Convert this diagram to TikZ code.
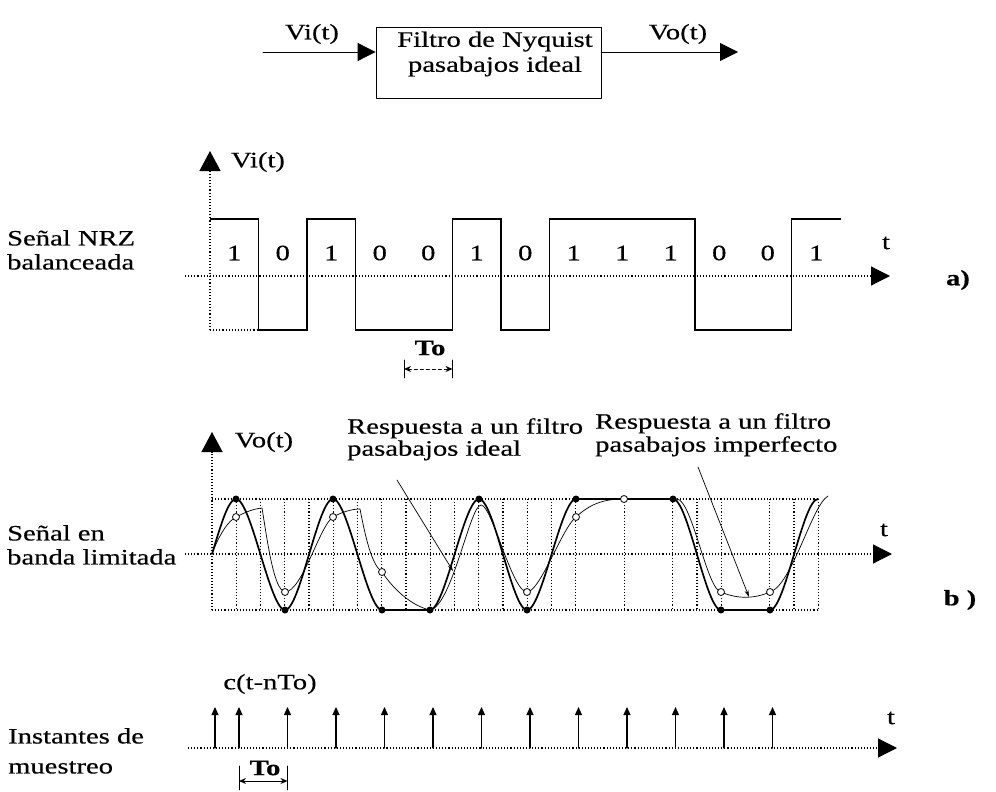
\documentclass[tikz,border=0pt]{standalone}
\usepackage{fontspec}
\setmainfont[FakeStretch=1.3, FakeBold=0.4]{Liberation Serif}
\usetikzlibrary{arrows.meta,calc}

\begin{document}
\begin{tikzpicture}[x=1pt, y=-1pt, line cap=round, line join=round,
  font=\fontsize{22}{24}\selectfont,
  dotline/.style={line width=1.2pt, line cap=butt, dash pattern=on 1.1pt off 2pt},
  taxis/.style={dotline, -{Triangle[length=19pt,width=19pt]}},
  yaxis/.style={dotline, -{Triangle[length=20pt,width=21pt]}},
  nrz/.style={line width=1.8pt, line join=miter, line cap=butt},
  ideal/.style={line width=1.7pt},
  imperf/.style={line width=0.7pt},
  leader/.style={line width=0.7pt, -{Stealth[length=7pt,width=4pt]}},
  impulse/.style={line width=1.2pt, -{Triangle[length=8pt,width=7pt]}},
  tospan/.style={line width=0.9pt, {Stealth[length=7pt,width=6pt]}-{Stealth[length=7pt,width=6pt]}},
  lbl/.style={align=left, inner sep=0pt, anchor=north west},
  boldlbl/.style={font=\fontsize{22}{24}\selectfont\bfseries}]
  \useasboundingbox (0,0) rectangle (996,792);

  % block diagram
  \node[draw, line width=0.8pt, minimum width=225pt, minimum height=71pt, inner sep=0pt] (filtro) at (488.5,62.5) {};
  \node[align=center, font=\fontsize{22}{25}\selectfont] (filtrotxt) at (495,54) {Filtro de Nyquist\\pasabajos ideal};
  \coordinate (vin) at (263,52);
  \coordinate (vout) at (738,52);
  \draw[line width=0.8pt, -{Triangle[length=18pt,width=18pt]}] (vin) -- (vin -| filtro.west);
  \draw[line width=0.8pt, -{Triangle[length=18pt,width=18pt]}] (filtro.east |- vout) -- (vout);
  \node (vilbl) at (312,34) {Vi(t)};
  \node (volbl) at (678,34) {Vo(t)};

  % a) NRZ signal
  \node[lbl] (nrzlbl) at (7,230) {Señal NRZ\\balanceada};
  \coordinate (ya0) at (210,330);
  \coordinate (ya1) at (210,151);
  \draw[yaxis] (ya0) -- (ya1);
  \draw[dotline] (ya0) -- (258.5,330);
  \node (vi) at (258,162) {Vi(t)};
  \coordinate (ta0) at (185,276);
  \coordinate (ta1) at (890,276);
  \draw[taxis] (ta0) -- (ta1);
  \node (tta) at (886,243) {t};
  \node[boldlbl] (alabel) at (958,280) {a)};
  \draw[nrz] (210,219) -- (258.5,219) -- (258.5,330) -- (307,330) -- (307,219) -- (355.5,219)
    -- (355.5,330) -- (452.5,330) -- (452.5,219) -- (501,219) -- (501,330) -- (549.5,330)
    -- (549.5,219) -- (695,219) -- (695,330) -- (791.5,330) -- (791.5,219) -- (840.5,219);
  \foreach \b [count=\i] in {1,0,1,0,0,1,0,1,1,1,0,0,1} {
    \node (bit\i) at ({210+48.5*(\i-0.5)},253) {\b};
  }
  \coordinate (toa1) at (404,369);
  \coordinate (toa2) at (452.5,369);
  \draw[line width=0.9pt] ($(toa1)+(0,-9)$) -- ($(toa1)+(0,9)$);
  \draw[line width=0.9pt] ($(toa2)+(0,-9)$) -- ($(toa2)+(0,9)$);
  \draw[tospan, dashed] (toa1) -- (toa2);
  \node[boldlbl] (toa) at (430,348) {To};

  % b) band-limited signal
  \node[lbl] (bllbl) at (7,525) {Señal en\\banda limitada};
  \coordinate (yb0) at (212,610);
  \coordinate (yb1) at (212,432);
  \draw[yaxis] (yb0) -- (yb1);
  \node (vo) at (264,442) {Vo(t)};
  \draw[dotline] (212,499) -- (818,499);
  \draw[dotline] (212,610) -- (818,610);
  \foreach \k in {1,...,15,17,19,20,21,23,24,25} {
    \draw[dotline] ({212+24.25*\k},499) -- ({212+24.25*\k},610);
  }
  \coordinate (tb0) at (185,554);
  \coordinate (tb1) at (892,554);
  \draw[taxis] (tb0) -- (tb1);
  \node (ttb) at (884,530) {t};
  \node[boldlbl] (blabel) at (960,600) {b )};

  \draw[ideal] (212,554) .. controls (220,528) and (228,499) .. (236,499)
    .. controls (251,499) and (270,610) .. (285,610)
    .. controls (300,610) and (318,499) .. (333,499)
    .. controls (348,499) and (367,610) .. (382,610) -- (430,610)
    .. controls (445,610) and (464,499) .. (479,499)
    .. controls (494,499) and (512,610) .. (527,610)
    .. controls (542,610) and (561,499) .. (576,499) -- (673,499)
    .. controls (688,499) and (706,610) .. (721,610) -- (770,610)
    .. controls (785,610) and (803,499) .. (818,499);
  \draw[imperf] (212,554) .. controls (219,535) and (228,521) .. (236,517)
    .. controls (244,513) and (252,509) .. (262,508)
    .. controls (268,545) and (274,590) .. (285,592)
    .. controls (302,592) and (320,525) .. (333,517)
    .. controls (342,512) and (352,509) .. (360,509)
    .. controls (366,540) and (372,565) .. (382,572)
    .. controls (394,590) and (412,606) .. (430,610)
    .. controls (452,606) and (470,505) .. (481,505)
    .. controls (492,505) and (512,592) .. (527,592)
    .. controls (540,592) and (562,528) .. (576,517)
    .. controls (592,502) and (607,499) .. (624,499) -- (677,499)
    .. controls (692,500) and (707,590) .. (721,592)
    .. controls (737,599) and (754,599) .. (770,592)
    .. controls (792,585) and (812,505) .. (828,496);
  \foreach \x/\y in {236/499,285/610,333/499,382/610,430/610,479/499,527/610,576/499,673/499,721/610,770/610}
    \fill (\x,\y) circle[radius=3.5pt];
  \foreach \x/\y in {236/517,285/592,333/517,382/572,527/592,576/517,624/499,721/592,770/592}
    \draw[line width=0.8pt, fill=white] (\x,\y) circle[radius=3.5pt];

  \node[lbl, font=\fontsize{22}{22}\selectfont] (rideal) at (347,418) {Respuesta a un filtro\\pasabajos ideal};
  \node[lbl, font=\fontsize{22}{23}\selectfont] (rimperf) at (595,413) {Respuesta a un filtro\\pasabajos imperfecto};
  \coordinate (lid0) at (397,480);
  \coordinate (lid1) at (453,571);
  \coordinate (lim0) at (698,467);
  \coordinate (lim1) at (749,597);
  \draw[leader] (lid0) -- (lid1);
  \draw[leader] (lim0) -- (lim1);

  % c) sampling instants
  \node[lbl, font=\fontsize{22}{30}\selectfont] (inslbl) at (8,728) {Instantes de\\muestreo};
  \coordinate (tc0) at (188,748);
  \coordinate (tc1) at (897,748);
  \draw[taxis] (tc0) -- (tc1);
  \node (ttc) at (891,718) {t};
  \foreach \x [count=\i] in {215,239,287.5,336,384.5,433,481.5,530,578.5,627,675.5,724,772.5} {
    \coordinate (s\i) at (\x,748);
    \draw[impulse] (s\i) -- ++(0,-41);
  }
  \node (ctn) at (270,684) {c(t-nTo)};
  \coordinate (toc1) at (239,781);
  \coordinate (toc2) at (287.5,781);
  \draw[line width=0.9pt] ($(toc1)+(0,-15)$) -- ($(toc1)+(0,9)$);
  \draw[line width=0.9pt] ($(toc2)+(0,-15)$) -- ($(toc2)+(0,9)$);
  \draw[tospan] (toc1) -- (toc2);
  \node[boldlbl] (toc) at (265,768) {To};
\end{tikzpicture}
\end{document}
